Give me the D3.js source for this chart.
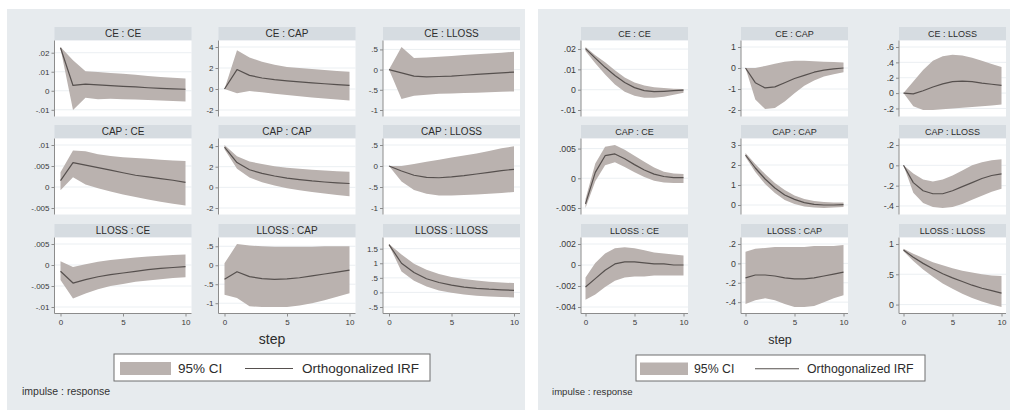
<!DOCTYPE html>
<html>
<head>
<meta charset="utf-8">
<script src="https://cdn.jsdelivr.net/npm/d3@7"></script>
<style>
  body { margin: 0; background: #ffffff; }
  svg { display: block; }
  text { font-family: "Liberation Sans", Arial, Helvetica, sans-serif; }
</style>
</head>
<body>
<svg id="chart" width="1010" height="410"></svg>
<script>
// Forecast horizon and variable names
const steps = [0, 1, 2, 3, 4, 5, 6, 7, 8, 9, 10];
const variables = ["CE", "CAP", "LLOSS"];
const xTicks = [0, 5, 10];

// Panels are ordered impulse-major: CE:CE, CE:CAP, CE:LLOSS, CAP:CE, ... LLOSS:LLOSS

// ---- Left model ----
const leftIrf = [
  [0.0226, 0.0028, 0.0035, 0.0031, 0.0027, 0.0023, 0.002, 0.0016, 0.0013, 0.001, 0.0008],
  [0, 1.85, 1.3, 1.05, 0.9, 0.78, 0.68, 0.58, 0.5, 0.42, 0.35],
  [0, -0.08, -0.16, -0.18, -0.17, -0.16, -0.14, -0.12, -0.1, -0.08, -0.06],
  [0.0015, 0.0058, 0.0052, 0.0046, 0.004, 0.0034, 0.0028, 0.0024, 0.002, 0.0016, 0.0011],
  [3.9, 2.4, 1.7, 1.35, 1.1, 0.9, 0.75, 0.62, 0.52, 0.44, 0.37],
  [0, -0.12, -0.22, -0.27, -0.28, -0.26, -0.23, -0.19, -0.15, -0.11, -0.08],
  [-0.0015, -0.0043, -0.0035, -0.0028, -0.0023, -0.0019, -0.0015, -0.0011, -0.0008, -0.0006, -0.0004],
  [-0.37, -0.17, -0.3, -0.35, -0.37, -0.36, -0.33, -0.28, -0.23, -0.18, -0.13],
  [1.64, 1.0, 0.68, 0.47, 0.34, 0.25, 0.18, 0.14, 0.11, 0.09, 0.07]
];
const leftLower = [
  [0.0222, -0.0101, -0.0037, -0.0045, -0.0042, -0.0044, -0.0046, -0.0049, -0.0051, -0.0054, -0.0056],
  [0, -0.4, -0.2, -0.3, -0.45, -0.58, -0.7, -0.8, -0.9, -1.0, -1.1],
  [0, -0.73, -0.65, -0.62, -0.6, -0.59, -0.58, -0.57, -0.56, -0.55, -0.54],
  [-0.0008, 0.0023, 0.0006, -0.0003, -0.0011, -0.0018, -0.0024, -0.003, -0.0035, -0.004, -0.0044],
  [3.7, 1.8, 0.95, 0.5, 0.18, -0.08, -0.28, -0.44, -0.6, -0.74, -0.86],
  [0, -0.37, -0.57, -0.66, -0.7, -0.7, -0.69, -0.68, -0.66, -0.64, -0.62],
  [-0.0036, -0.008, -0.0068, -0.0058, -0.005, -0.0045, -0.004, -0.0037, -0.0034, -0.0031, -0.0029],
  [-0.78, -0.86, -1.08, -1.1, -1.1, -1.1, -1.06, -1.0, -0.92, -0.83, -0.74],
  [1.62, 0.72, 0.4, 0.2, 0.07, -0.01, -0.07, -0.11, -0.14, -0.16, -0.17]
];
const leftUpper = [
  [0.023, 0.016, 0.0102, 0.0098, 0.0093, 0.009, 0.0084, 0.0078, 0.0073, 0.0068, 0.0064],
  [0, 3.7, 3.0, 2.6, 2.3, 2.1, 2.0, 1.9, 1.8, 1.72, 1.65],
  [0, 0.56, 0.29, 0.3, 0.32, 0.34, 0.36, 0.38, 0.4, 0.42, 0.44],
  [0.0035, 0.0087, 0.0085, 0.0078, 0.0074, 0.0071, 0.0069, 0.0067, 0.0065, 0.0063, 0.0062],
  [4.1, 3.0, 2.5, 2.25, 2.05, 1.9, 1.8, 1.7, 1.62, 1.56, 1.5],
  [0, 0.0, 0.05, 0.1, 0.15, 0.2, 0.25, 0.3, 0.36, 0.42, 0.47],
  [0.0009, -0.0005, 0.0002, 0.0008, 0.0012, 0.0015, 0.0018, 0.002, 0.0022, 0.0024, 0.0025],
  [0.05, 0.56, 0.52, 0.5, 0.49, 0.49, 0.49, 0.49, 0.5, 0.5, 0.5],
  [1.66, 1.3, 0.98, 0.78, 0.63, 0.53, 0.46, 0.41, 0.37, 0.34, 0.32]
];
const leftYTicks = [
  [-0.01, 0, 0.01, 0.02],
  [-2, 0, 2, 4],
  [-1, -0.5, 0, 0.5],
  [-0.005, 0, 0.005, 0.01],
  [-2, 0, 2, 4],
  [-1, -0.5, 0, 0.5],
  [-0.01, -0.005, 0, 0.005],
  [-1, -0.5, 0, 0.5],
  [-0.5, 0, 0.5, 1, 1.5]
];

// ---- Right model ----
const rightIrf = [
  [0.0202, 0.0155, 0.011, 0.007, 0.0035, 0.001, -0.0005, -0.001, -0.0008, -0.0005, -0.0002],
  [0, -0.7, -0.95, -0.9, -0.7, -0.5, -0.35, -0.2, -0.1, -0.04, 0],
  [0, -0.01, 0.03, 0.08, 0.12, 0.15, 0.155, 0.15, 0.13, 0.115, 0.1],
  [-0.0043, 0.001, 0.0038, 0.0041, 0.0033, 0.0023, 0.0014, 0.0007, 0.0003, 0.0001, 0.0001],
  [2.5, 1.85, 1.3, 0.85, 0.5, 0.28, 0.12, 0.03, 0, 0, 0.02],
  [0, -0.17, -0.25, -0.28, -0.28, -0.25, -0.21, -0.17, -0.13, -0.1, -0.085],
  [-0.0021, -0.0013, -0.0005, 0.0001, 0.0003, 0.0003, 0.0002, 0.0001, 0.0001, 0, 0],
  [-0.15, -0.12, -0.12, -0.13, -0.15, -0.16, -0.16, -0.15, -0.13, -0.11, -0.09],
  [0.9, 0.78, 0.68, 0.59, 0.51, 0.44, 0.38, 0.32, 0.27, 0.23, 0.19]
];
const rightLower = [
  [0.019, 0.013, 0.0075, 0.0025, -0.001, -0.003, -0.004, -0.004, -0.0035, -0.0025, -0.0015],
  [0, -1.5, -1.95, -1.9, -1.6, -1.2, -0.85, -0.6, -0.4, -0.3, -0.2],
  [0, -0.17, -0.22, -0.22, -0.21, -0.2, -0.19, -0.18, -0.17, -0.16, -0.15],
  [-0.005, -0.0005, 0.0022, 0.0027, 0.0019, 0.001, 0.0002, -0.0004, -0.0007, -0.0008, -0.0008],
  [2.4, 1.65, 1.05, 0.6, 0.25, 0.05, -0.08, -0.13, -0.15, -0.13, -0.1],
  [0, -0.27, -0.37, -0.41, -0.42, -0.41, -0.38, -0.34, -0.3, -0.26, -0.23],
  [-0.0033, -0.0028, -0.0021, -0.0015, -0.0012, -0.0011, -0.0011, -0.001, -0.001, -0.001, -0.001],
  [-0.42, -0.38, -0.36, -0.38, -0.42, -0.45, -0.45, -0.44, -0.4, -0.36, -0.33],
  [0.88, 0.72, 0.58, 0.46, 0.35, 0.26, 0.18, 0.11, 0.05, 0, -0.04]
];
const rightUpper = [
  [0.021, 0.017, 0.0135, 0.0095, 0.006, 0.0035, 0.002, 0.0012, 0.0008, 0.0005, 0.0003],
  [0, 0, 0.1, 0.2, 0.3, 0.35, 0.35, 0.32, 0.3, 0.28, 0.26],
  [0, 0.15, 0.3, 0.42, 0.48, 0.5, 0.49, 0.46, 0.42, 0.38, 0.34],
  [-0.0035, 0.0025, 0.0053, 0.0056, 0.0048, 0.0038, 0.0028, 0.0018, 0.0011, 0.0008, 0.0007],
  [2.6, 2.05, 1.55, 1.1, 0.75, 0.48, 0.3, 0.2, 0.15, 0.13, 0.13],
  [0, -0.08, -0.14, -0.16, -0.14, -0.1, -0.05, 0, 0.03, 0.05, 0.06],
  [-0.0012, 0.0002, 0.0011, 0.0016, 0.0017, 0.0016, 0.0014, 0.0012, 0.0011, 0.001, 0.0009],
  [0.12, 0.15, 0.16, 0.17, 0.17, 0.17, 0.17, 0.18, 0.18, 0.18, 0.19],
  [0.92, 0.84, 0.77, 0.7, 0.65, 0.6, 0.56, 0.53, 0.5, 0.48, 0.47]
];
const rightYTicks = [
  [-0.01, 0, 0.01, 0.02],
  [-2, -1, 0, 1],
  [-0.2, 0, 0.2, 0.4, 0.6],
  [-0.005, 0, 0.005],
  [0, 1, 2, 3],
  [-0.4, -0.2, 0, 0.2],
  [-0.004, -0.002, 0, 0.002],
  [-0.4, -0.2, 0, 0.2],
  [0, 0.5, 1]
];

const legendLabels = ["95% CI", "Orthogonalized IRF"];
const xTitle = "step";
const noteText = "impulse : response";

// ---- Styling ----
const C = {
  bg: "#e7ebee",
  header: "#d6dce1",
  plot: "#ffffff",
  grid: "#e9edf0",
  band: "#bab2af",
  line: "#56504e",
  axis: "#8c8c8c",
  text: "#3a3a3a"
};

// Stata-style tick labels: drop the leading zero (".02", "-.005")
const fmt = v => String(+v.toPrecision(6)).replace(/^(-?)0\./, "$1.");

const leftLayout = {
  bg: [7, 9, 518, 401],
  colX: [54.5, 218.5, 383], colW: 137,
  rowY: [27, 125, 224], headH: 13.5, plotH: 76,
  xInset: 6, yInset: 6.5,
  tickFont: 8, xTickFont: 8, headFont: 10,
  legend: { box: [114, 354, 316, 27], swatch: [120, 362, 51, 13], ciX: 178, lineX: [245, 293], irfX: 302, font: 13.5, baseY: 372.5 },
  stepX: 272, stepFont: 14, noteX: 22, noteFont: 10.5
};
const rightLayout = {
  bg: [538, 9, 472, 401],
  colX: [581, 741, 899], colW: 107,
  rowY: [27, 125, 224], headH: 13.5, plotH: 76,
  xInset: 4.5, yInset: 6.5,
  tickFont: 8.8, xTickFont: 8, headFont: 9,
  legend: { box: [636, 355, 289, 26], swatch: [640, 362.5, 48, 12.5], ciX: 694, lineX: [755, 799], irfX: 807, font: 12.3, baseY: 372.5 },
  stepX: 780, stepFont: 12.5, noteX: 552, noteFont: 9.6
};

const svg = d3.select("#chart");

function drawFigure(L, irfs, lows, highs, yTicks) {
  const g = svg.append("g");
  g.append("rect")
    .attr("x", L.bg[0]).attr("y", L.bg[1]).attr("width", L.bg[2]).attr("height", L.bg[3])
    .attr("fill", C.bg);

  variables.forEach((imp, i) => {
    variables.forEach((resp, j) => {
      const k = i * variables.length + j;
      const x0 = L.colX[j];
      const hTop = L.rowY[i];
      const top = hTop + L.headH;
      const bottom = top + L.plotH;
      const cell = g.append("g");

      // title strip
      cell.append("rect")
        .attr("x", x0).attr("y", hTop).attr("width", L.colW).attr("height", L.headH)
        .attr("fill", C.header);
      cell.append("text")
        .attr("x", x0 + L.colW / 2).attr("y", hTop + L.headH / 2)
        .attr("dy", "0.36em").attr("text-anchor", "middle")
        .attr("font-size", L.headFont).attr("fill", "#2c2c2c")
        .text(imp + " : " + resp);

      // plot region
      cell.append("rect")
        .attr("x", x0).attr("y", top).attr("width", L.colW).attr("height", L.plotH)
        .attr("fill", C.plot);

      const x = d3.scaleLinear().domain(d3.extent(steps))
        .range([x0 + L.xInset, x0 + L.colW - L.xInset]);
      const ext = d3.extent([...yTicks[k], ...lows[k], ...highs[k], ...irfs[k]]);
      const y = d3.scaleLinear().domain(ext)
        .range([bottom - L.yInset, top + L.yInset]);

      // horizontal grid at the tick values
      cell.selectAll("line.grid").data(yTicks[k]).join("line")
        .attr("class", "grid")
        .attr("x1", x0).attr("x2", x0 + L.colW)
        .attr("y1", d => y(d)).attr("y2", d => y(d))
        .attr("stroke", C.grid).attr("stroke-width", 0.9);

      // confidence band
      const rows = steps.map((s, t) => ({ s, lo: lows[k][t], hi: highs[k][t], v: irfs[k][t] }));
      cell.append("path").datum(rows)
        .attr("fill", C.band)
        .attr("d", d3.area().x(d => x(d.s)).y0(d => y(d.lo)).y1(d => y(d.hi)));

      // impulse response
      cell.append("path").datum(rows)
        .attr("fill", "none").attr("stroke", C.line).attr("stroke-width", 1.2)
        .attr("stroke-linejoin", "round")
        .attr("d", d3.line().x(d => x(d.s)).y(d => y(d.v)));

      // y axis
      const ya = cell.append("g").attr("transform", `translate(${x0},0)`)
        .call(d3.axisLeft(y).tickValues(yTicks[k]).tickSize(3).tickSizeOuter(0).tickPadding(2).tickFormat(fmt));
      ya.select(".domain").remove();
      ya.selectAll(".tick line").attr("stroke", C.axis);
      ya.selectAll(".tick text").attr("font-size", L.tickFont).attr("fill", C.text)
        .attr("font-family", "Liberation Sans, Arial, sans-serif");
      cell.append("line")
        .attr("x1", x0).attr("x2", x0).attr("y1", top).attr("y2", bottom)
        .attr("stroke", C.axis).attr("stroke-width", 1);

      // x axis on the bottom row only
      if (i === variables.length - 1) {
        const xa = cell.append("g").attr("transform", `translate(0,${bottom})`)
          .call(d3.axisBottom(x).tickValues(xTicks).tickSize(3).tickSizeOuter(0).tickPadding(3));
        xa.select(".domain").remove();
        xa.selectAll(".tick line").attr("stroke", C.axis);
        xa.selectAll(".tick text").attr("font-size", L.xTickFont).attr("fill", C.text)
          .attr("font-family", "Liberation Sans, Arial, sans-serif");
        cell.append("line")
          .attr("x1", x0).attr("x2", x0 + L.colW).attr("y1", bottom).attr("y2", bottom)
          .attr("stroke", C.axis).attr("stroke-width", 1);
      }
    });
  });

  // axis title
  g.append("text")
    .attr("x", L.stepX).attr("y", 344).attr("text-anchor", "middle")
    .attr("font-size", L.stepFont).attr("fill", "#2c2c2c")
    .text(xTitle);

  // legend
  const lg = L.legend;
  g.append("rect")
    .attr("x", lg.box[0]).attr("y", lg.box[1]).attr("width", lg.box[2]).attr("height", lg.box[3])
    .attr("fill", "#ffffff").attr("stroke", "#6f6f6f").attr("stroke-width", 1);
  g.append("rect")
    .attr("x", lg.swatch[0]).attr("y", lg.swatch[1]).attr("width", lg.swatch[2]).attr("height", lg.swatch[3])
    .attr("fill", C.band);
  g.append("text")
    .attr("x", lg.ciX).attr("y", lg.baseY).attr("font-size", lg.font).attr("fill", "#2c2c2c")
    .text(legendLabels[0]);
  g.append("line")
    .attr("x1", lg.lineX[0]).attr("x2", lg.lineX[1])
    .attr("y1", lg.swatch[1] + lg.swatch[3] / 2).attr("y2", lg.swatch[1] + lg.swatch[3] / 2)
    .attr("stroke", C.line).attr("stroke-width", 1.2);
  g.append("text")
    .attr("x", lg.irfX).attr("y", lg.baseY).attr("font-size", lg.font).attr("fill", "#2c2c2c")
    .text(legendLabels[1]);

  // note
  g.append("text")
    .attr("x", L.noteX).attr("y", 395).attr("font-size", L.noteFont).attr("fill", "#333")
    .text(noteText);
}

drawFigure(leftLayout, leftIrf, leftLower, leftUpper, leftYTicks);
drawFigure(rightLayout, rightIrf, rightLower, rightUpper, rightYTicks);
</script>
</body>
</html>
